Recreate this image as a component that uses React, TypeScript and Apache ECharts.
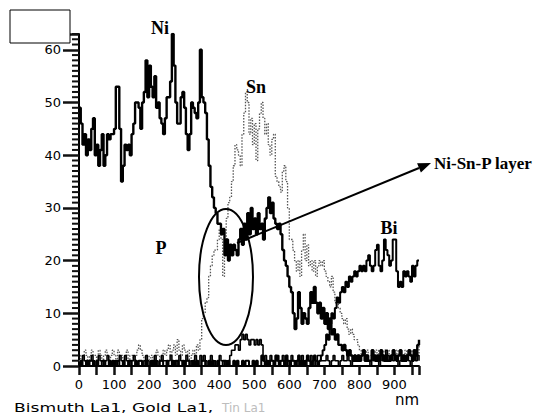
import React, { useEffect, useRef } from "react";
import * as echarts from "echarts";

// Sampling grid of the depth profile (nm), one reading every 5 nm from 0 to 970
const depthNm: number[] = Array.from({ length: 195 }, (_, i) => i * 5);

// Ni counts
const ni: number[] = [
  49, 46, 42, 44, 40, 43, 41, 45, 47, 40,
  42, 38, 41, 44, 38, 40, 44, 43, 44, 44,
  45, 53, 53, 45, 35, 38, 42, 41, 42, 40,
  44, 46, 50, 50, 49, 45, 50, 52, 58, 51,
  57, 53, 51, 55, 49, 50, 47, 46, 44, 47,
  51, 51, 54, 63, 57, 50, 46, 46, 51, 52,
  49, 44, 41, 44, 50, 49, 48, 47, 50, 60,
  51, 50, 48, 43, 38, 34, 32, 30, 29, 27,
  27, 25, 26, 21, 24, 20, 23, 21, 23, 22,
  21, 24, 26, 23, 27, 24, 29, 25, 30, 26,
  28, 25, 29, 26, 27, 24, 28, 30, 32, 29,
  31, 28, 27, 26, 27, 25, 22, 20, 19, 17,
  15, 14, 10, 7, 9, 14, 11, 8, 10, 9,
  8, 11, 14, 12, 15, 12, 10, 12, 9, 11,
  8, 10, 7, 9, 6, 7, 5, 6, 4, 4,
  3, 4, 3, 2, 3, 2, 1, 2, 1, 2,
  1, 2, 3, 1, 2, 1, 1, 3, 2, 1,
  2, 1, 3, 2, 1, 2, 1, 1, 2, 3,
  2, 1, 2, 3, 1, 2, 1, 2, 3, 2,
  1, 3, 2, 4, 5,
];

// Sn counts (dotted trace)
const sn: number[] = [
  1, 2, 1, 3, 2, 1, 2, 3, 2, 2,
  1, 3, 2, 1, 2, 3, 2, 1, 2, 3,
  2, 1, 3, 2, 2, 1, 2, 3, 1, 2,
  2, 1, 2, 3, 4, 3, 2, 1, 2, 2,
  1, 2, 1, 2, 3, 2, 1, 2, 3, 2,
  3, 4, 2, 3, 4, 2, 5, 3, 2, 4,
  3, 2, 3, 1, 2, 3, 2, 4, 3, 5,
  9, 10, 12, 13, 17, 19, 21, 22, 22, 24,
  26, 24, 17, 22, 28, 31, 32, 35, 38, 42,
  41, 40, 38, 44, 48, 52, 50, 44, 47, 42,
  46, 39, 45, 48, 50, 47, 44, 46, 42, 40,
  43, 44, 36, 35, 34, 33, 37, 38, 35, 30,
  24, 24, 22, 20, 18, 20, 17, 22, 25, 20,
  23, 19, 20, 18, 20, 17, 19, 20, 19, 20,
  18, 17, 16, 15, 17, 14, 12, 13, 11, 10,
  9, 8, 9, 7, 6, 7, 6, 5, 5, 4,
  3, 2, 3, 2, 3, 2, 2, 3, 2, 3,
  2, 3, 2, 2, 3, 2, 3, 2, 2, 3,
  2, 3, 2, 3, 2, 2, 3, 2, 3, 2,
  3, 2, 3, 2, 4,
];

// Bi counts
const bi: number[] = [
  0, 1, 0, 0, 1, 0, 1, 1, 0, 0,
  1, 0, 0, 1, 1, 0, 0, 1, 0, 1,
  0, 1, 1, 0, 0, 1, 0, 0, 1, 1,
  0, 0, 1, 0, 1, 1, 0, 0, 1, 0,
  0, 1, 0, 1, 0, 0, 1, 1, 0, 0,
  1, 0, 0, 1, 0, 1, 1, 0, 0, 1,
  0, 1, 1, 0, 0, 1, 0, 1, 0, 0,
  1, 1, 0, 0, 1, 0, 1, 0, 0, 1,
  0, 0, 1, 1, 0, 1, 0, 0, 1, 0,
  1, 0, 0, 1, 0, 1, 1, 0, 0, 1,
  0, 1, 0, 0, 2, 1, 0, 1, 0, 1,
  1, 0, 2, 1, 0, 1, 1, 0, 2, 1,
  0, 1, 1, 0, 1, 2, 0, 1, 0, 1,
  2, 1, 0, 1, 2, 1, 0, 1, 2, 3,
  4, 6, 5, 8, 10, 9, 11, 13, 12, 14,
  15, 14, 16, 15, 17, 16, 17, 18, 17, 18,
  19, 18, 19, 18, 20, 21, 19, 18, 19, 22,
  23, 19, 18, 20, 24, 22, 21, 19, 20, 24,
  24, 18, 15, 16, 15, 18, 17, 18, 17, 16,
  19, 17, 19, 20, 20,
];

// Au counts
const au: number[] = [
  0, 1, 2, 1, 0, 1, 1, 2, 1, 0,
  1, 2, 1, 1, 0, 1, 2, 1, 0, 1,
  1, 0, 1, 2, 1, 0, 2, 1, 1, 0,
  1, 2, 1, 0, 1, 1, 0, 1, 2, 1,
  0, 1, 1, 2, 1, 0, 1, 2, 1, 1,
  0, 1, 2, 1, 1, 0, 1, 2, 1, 0,
  1, 2, 1, 0, 1, 1, 2, 1, 0, 2,
  1, 2, 1, 0, 1, 2, 1, 1, 0, 1,
  2, 1, 1, 0, 1, 1, 2, 3, 3, 4,
  4, 3, 5, 6, 5, 6, 5, 4, 5, 5,
  4, 5, 4, 5, 4, 1, 2, 1, 1, 2,
  1, 0, 1, 2, 1, 1, 2, 1, 0, 1,
  1, 2, 1, 1, 0, 1, 1, 2, 1, 0,
  1, 1, 2, 1, 0, 1, 2, 2, 1, 1,
  1, 2, 1, 0, 1, 2, 1, 1, 0, 1,
  2, 1, 1, 2, 1, 0, 1, 2, 1, 2,
  1, 2, 3, 1, 2, 1, 0, 2, 1, 2,
  1, 0, 2, 1, 1, 3, 2, 1, 2, 1,
  2, 1, 0, 1, 2, 1, 1, 2, 1, 0,
  1, 2, 1, 2, 1,
];

const xLabelValues: number[] = [0, 100, 200, 300, 400, 500, 600, 700, 800, 900];
const yLabelValues: number[] = [0, 10, 20, 30, 40, 50, 60];
const yMinorTickValues: number[] = Array.from({ length: 64 }, (_, i) => i).filter((v) => v % 10 !== 0);

const X_MAX = 970;
const Y_MAX = 63;

export default function App() {
  const ref = useRef<HTMLDivElement>(null);
  useEffect(() => {
    document.body.style.margin = "0";
    if (!ref.current) return;
    const chart = echarts.init(ref.current, undefined, { renderer: "svg" });
    const pairs = (vals: number[]) => depthNm.map((x, i) => [x, vals[i]]);

    // arrow geometry
    const ax1 = 237, ay1 = 243, ax2 = 431, ay2 = 163;
    const dx = ax2 - ax1, dy = ay2 - ay1;
    const len = Math.sqrt(dx * dx + dy * dy);
    const ux = dx / len, uy = dy / len;
    const hl = 13, hw = 5;
    const bx = ax2 - ux * hl, by = ay2 - uy * hl;
    const px = -uy, py = ux;

    const serif = "'Liberation Serif', 'Times New Roman', serif";
    const sans = "'DejaVu Sans', sans-serif";

    const baseGraphic: any[] = [
      { type: "rect", shape: { x: 10, y: 10, width: 60, height: 33 }, style: { fill: "#fff", stroke: "#000", lineWidth: 1 }, z: 10 },
      { type: "ellipse", shape: { cx: 226, cy: 277, rx: 27, ry: 68 }, style: { fill: "none", stroke: "#000", lineWidth: 2 }, z: 10 },
      { type: "line", shape: { x1: ax1, y1: ay1, x2: bx, y2: by }, style: { stroke: "#000", lineWidth: 2 }, z: 10 },
      {
        type: "polygon",
        shape: { points: [[ax2, ay2], [bx + px * hw, by + py * hw], [bx - px * hw, by - py * hw]] },
        style: { fill: "#000" },
        z: 10,
      },
      { type: "text", x: 160, y: 28, style: { text: "Ni", fontSize: 18, fontWeight: "bold", fontFamily: serif, fill: "#000", align: "center", verticalAlign: "middle" }, z: 11 },
      { type: "text", x: 256, y: 87, style: { text: "Sn", fontSize: 18, fontWeight: "bold", fontFamily: serif, fill: "#000", align: "center", verticalAlign: "middle" }, z: 11 },
      { type: "text", x: 161, y: 248, style: { text: "P", fontSize: 18, fontWeight: "bold", fontFamily: serif, fill: "#000", align: "center", verticalAlign: "middle" }, z: 11 },
      { type: "text", x: 389, y: 228, style: { text: "Bi", fontSize: 18, fontWeight: "bold", fontFamily: serif, fill: "#000", align: "center", verticalAlign: "middle" }, z: 11 },
      { type: "text", x: 434, y: 163, style: { text: "Ni-Sn-P layer", fontSize: 17, fontWeight: "bold", fontFamily: serif, fill: "#000", align: "left", verticalAlign: "middle" }, z: 11 },
      { type: "text", x: 395, y: 400, style: { text: "nm", fontSize: 15, fontFamily: sans, fill: "#000", align: "left", verticalAlign: "middle" }, z: 11 },
      { type: "text", x: 14, y: 408, scaleX: 1.43, style: { text: "Bismuth La1, Gold La1,", fontSize: 12, fontFamily: sans, fill: "#000", align: "left", verticalAlign: "middle" }, z: 11 },
      { type: "text", x: 222, y: 408, style: { text: "Tin La1", fontSize: 12, fontFamily: sans, fill: "#bdbdbd", align: "left", verticalAlign: "middle" }, z: 11 },
    ];

    chart.setOption({
      animation: false,
      backgroundColor: "#fff",
      grid: { left: 79, top: 34, width: 340, height: 332 },
      xAxis: {
        type: "value",
        min: 0,
        max: X_MAX,
        interval: 50,
        splitLine: { show: false },
        axisLine: { show: true, onZero: false, lineStyle: { color: "#000", width: 2 } },
        axisTick: { show: true, length: 9, lineStyle: { color: "#111", width: 2.5 } },
        axisLabel: {
          color: "#000",
          fontSize: 13,
          fontFamily: sans,
          margin: 12,
          formatter: (v: number) => (xLabelValues.indexOf(v) >= 0 ? String(v) : ""),
        },
      },
      yAxis: {
        type: "value",
        min: 0,
        max: Y_MAX,
        interval: 10,
        splitLine: { show: false },
        axisLine: { show: true, onZero: false, lineStyle: { color: "#000", width: 2 } },
        axisTick: { show: true, length: 16, lineStyle: { color: "#111", width: 2.5 } },
        axisLabel: {
          color: "#000",
          fontSize: 13,
          fontFamily: sans,
          margin: 18,
          formatter: (v: number) => (yLabelValues.indexOf(v) >= 0 ? String(v) : ""),
        },
      },
      series: [
        {
          name: "Sn",
          type: "line",
          step: "end",
          symbol: "none",
          data: pairs(sn),
          lineStyle: { color: "#555", width: 1.3, type: [1.5, 1.5] },
          z: 2,
        },
        {
          name: "Au",
          type: "line",
          step: "end",
          symbol: "none",
          data: pairs(au),
          lineStyle: { color: "#000", width: 1.6 },
          z: 3,
        },
        {
          name: "Bi",
          type: "line",
          step: "end",
          symbol: "none",
          data: pairs(bi),
          lineStyle: { color: "#000", width: 2 },
          z: 3,
        },
        {
          name: "Ni",
          type: "line",
          step: "end",
          symbol: "none",
          data: pairs(ni),
          lineStyle: { color: "#000", width: 2.4 },
          z: 4,
        },
      ],
      graphic: baseGraphic,
    });

    // minor ticks of the y axis, placed through the axis' own scale
    const ticks: any[] = yMinorTickValues.map((v) => {
      const p = chart.convertToPixel({ gridIndex: 0 }, [0, v]) as number[];
      return { type: "line", shape: { x1: p[0], y1: p[1], x2: p[0] - 7, y2: p[1] }, style: { stroke: "#111", lineWidth: 2 }, z: 9 };
    });
    chart.setOption({ graphic: [...baseGraphic, ...ticks] });

    return () => chart.dispose();
  }, []);
  return <div ref={ref} style={{ width: 548, height: 419 }} />;
}
